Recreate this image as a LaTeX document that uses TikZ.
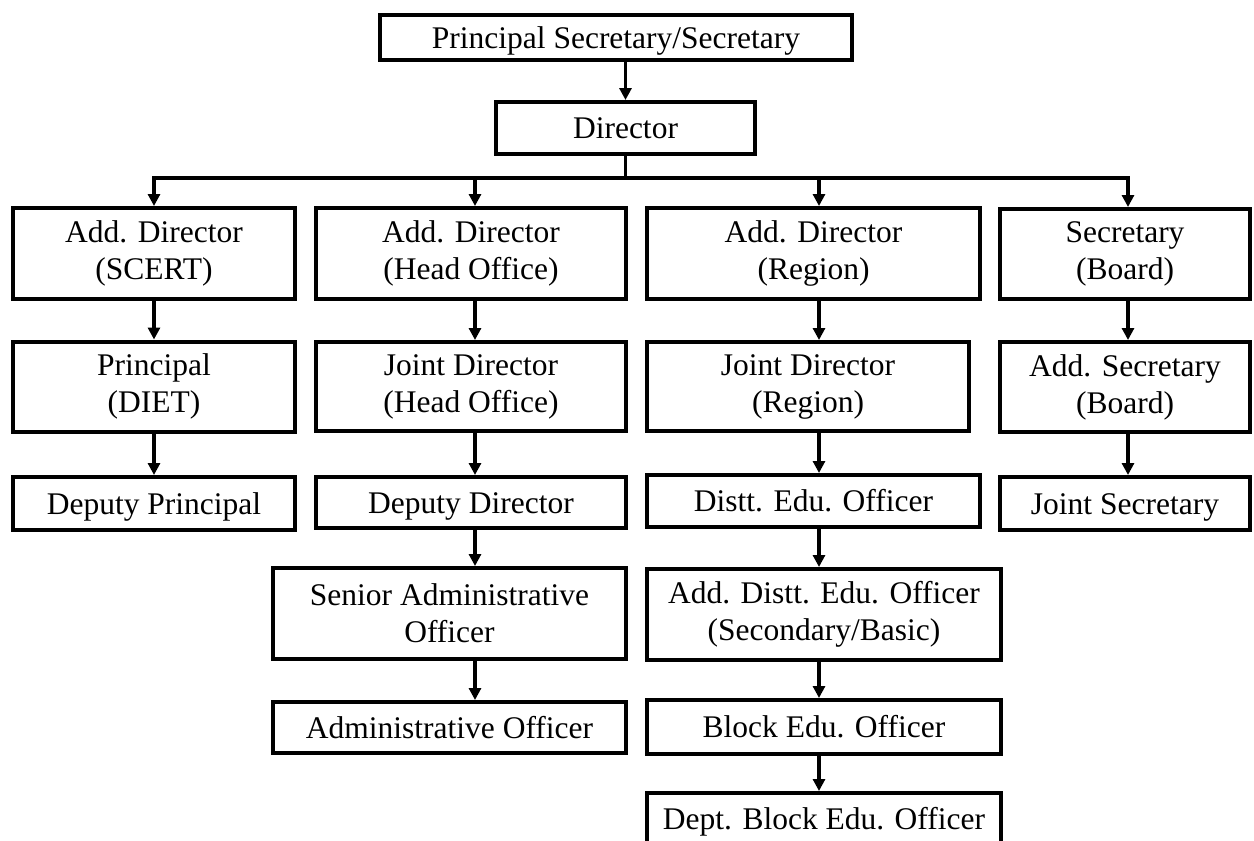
\documentclass[tikz,border=0pt]{standalone}
\usepackage{fontspec}
\setmainfont{Liberation Serif}
\usetikzlibrary{arrows.meta}

\begin{document}
\begin{tikzpicture}[x=1pt,y=-1pt]
\tikzset{
	box node/.style = {draw, line width = 4pt, align = center, inner sep = 0, font = \fontsize{31.5}{37}\selectfont},
	one line/.style = {box node, text height = 21pt, text depth = 0pt},
	link/.style = {line width = 3.6pt},
	conn/.style = {link, -{Triangle[length = 12pt, width = 12pt]}},
}

\useasboundingbox (0,0) rectangle (1254,841);

% column lines of the arrows
\coordinate (c1) at (154,0);
\coordinate (c2) at (475,0);
\coordinate (c3) at (819,0);
\coordinate (c4) at (1128,0);
\coordinate (bus) at (625.5,178);

\node(top)[one line, minimum width = 472, minimum height = 45] at (616,37.5) {Principal Secretary/Secretary};
\node(dir)[one line, minimum width = 259, minimum height = 52] at (625.5,128) {Director};

\node(r1c1)[box node, minimum width = 282, minimum height = 91] at (154,253.5) {Add. Director\\(SCERT)};
\node(r1c2)[box node, minimum width = 310, minimum height = 91] at (471,253.5) {Add. Director\\(Head Office)};
\node(r1c3)[box node, minimum width = 333, minimum height = 91] at (813.5,253.5) {Add. Director\\(Region)};
\node(r1c4)[box node, minimum width = 250, minimum height = 90] at (1125,254) {Secretary\\(Board)};

\node(r2c1)[box node, minimum width = 282, minimum height = 90] at (154,386.5) {Principal\\(DIET)};
\node(r2c2)[box node, minimum width = 310, minimum height = 89] at (471,386.5) {Joint Director\\(Head Office)};
\node(r2c3)[box node, minimum width = 322, minimum height = 89] at (808,386.5) {Joint Director\\(Region)};
\node(r2c4)[box node, minimum width = 250, minimum height = 90] at (1125,387) {Add. Secretary\\(Board)};

\node(r3c1)[one line, minimum width = 282, minimum height = 53] at (154,503.5) {Deputy Principal};
\node(r3c2)[one line, minimum width = 310, minimum height = 51] at (471,502.5) {Deputy Director};
\node(r3c3)[one line, minimum width = 333, minimum height = 52] at (813.5,501) {Distt. Edu. Officer};
\node(r3c4)[one line, minimum width = 250, minimum height = 53] at (1125,503.5) {Joint Secretary};

\node(r4c2)[box node, minimum width = 353, minimum height = 91] at (449.5,613.5) {Senior Administrative\\Officer};
\node(r4c3)[box node, minimum width = 354, minimum height = 91] at (824,614.5) {Add. Distt. Edu. Officer\\(Secondary/Basic)};

\node(r5c2)[one line, minimum width = 353, minimum height = 51] at (449.5,727.5) {Administrative Officer};
\node(r5c3)[one line, minimum width = 354, minimum height = 54] at (824,727) {Block Edu. Officer};

\node(r6c3)[one line, minimum width = 354, minimum height = 52] at (824,819) {Dept. Block Edu. Officer};

% top of the chart
\draw [conn] (dir.north |- top.south) to (dir.north);
\draw [link] (dir.south) to (bus);
\draw [conn] (bus) -| (r1c1.north -| c1);
\draw [conn] (bus) -| (r1c2.north -| c2);
\draw [conn] (bus) -| (r1c3.north -| c3);
\draw [conn] (bus) -| (r1c4.north -| c4);

% columns
\draw [conn] (r1c1.south -| c1) to (r2c1.north -| c1);
\draw [conn] (r2c1.south -| c1) to (r3c1.north -| c1);

\draw [conn] (r1c2.south -| c2) to (r2c2.north -| c2);
\draw [conn] (r2c2.south -| c2) to (r3c2.north -| c2);
\draw [conn] (r3c2.south -| c2) to (r4c2.north -| c2);
\draw [conn] (r4c2.south -| c2) to (r5c2.north -| c2);

\draw [conn] (r1c3.south -| c3) to (r2c3.north -| c3);
\draw [conn] (r2c3.south -| c3) to (r3c3.north -| c3);
\draw [conn] (r3c3.south -| c3) to (r4c3.north -| c3);
\draw [conn] (r4c3.south -| c3) to (r5c3.north -| c3);
\draw [conn] (r5c3.south -| c3) to (r6c3.north -| c3);

\draw [conn] (r1c4.south -| c4) to (r2c4.north -| c4);
\draw [conn] (r2c4.south -| c4) to (r3c4.north -| c4);

\end{tikzpicture}
\end{document}
